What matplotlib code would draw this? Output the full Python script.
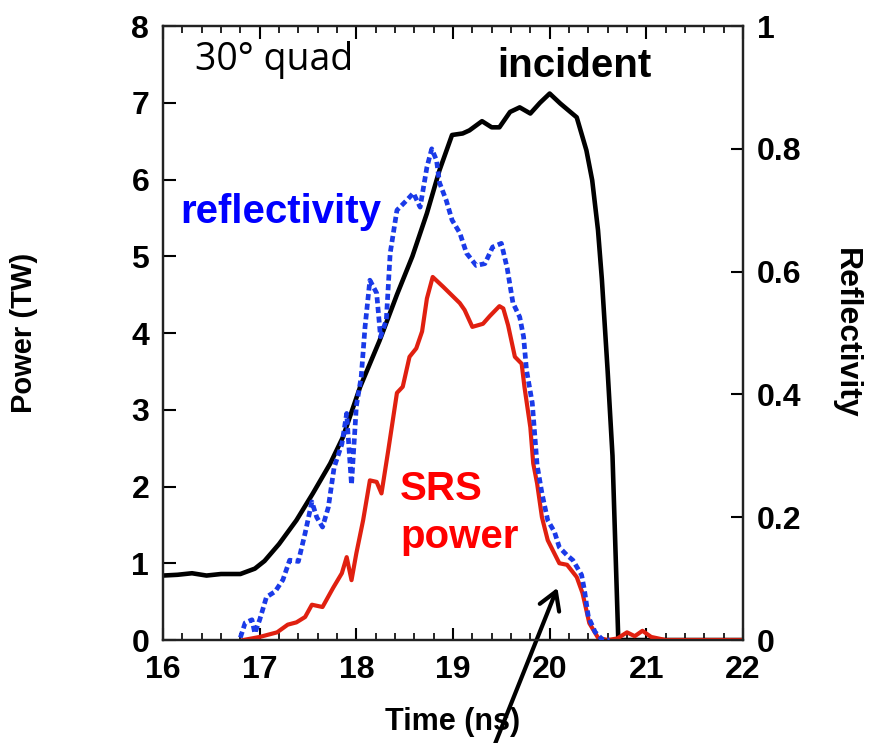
import matplotlib
matplotlib.use("Agg")
import matplotlib.pyplot as plt
from matplotlib.ticker import MultipleLocator

# incident laser power (TW)
t_inc = [16.0, 16.15, 16.3, 16.45, 16.6, 16.8, 16.95, 17.05, 17.2, 17.38, 17.55,
         17.73, 17.86, 18.04, 18.24, 18.42, 18.58, 18.73, 18.86, 18.99, 19.1,
         19.17, 19.3, 19.4, 19.48, 19.59, 19.69, 19.8, 19.9, 20.0, 20.11, 20.28,
         20.38, 20.44, 20.5, 20.54, 20.6, 20.65, 20.69, 20.71, 22.0]
p_inc = [0.84, 0.85, 0.87, 0.84, 0.86, 0.86, 0.93, 1.03, 1.25, 1.56, 1.91,
         2.3, 2.64, 3.3, 3.9, 4.5, 5.0, 5.56, 6.12, 6.58, 6.6,
         6.64, 6.76, 6.68, 6.68, 6.88, 6.94, 6.86, 7.0, 7.12, 6.99, 6.81,
         6.38, 5.99, 5.34, 4.7, 3.5, 2.4, 0.8, 0.0, 0.0]

# SRS power (TW)
t_srs = [16.83, 17.0, 17.18, 17.29, 17.38, 17.47, 17.54, 17.65, 17.76, 17.85,
         17.9, 17.95, 18.0, 18.07, 18.14, 18.21, 18.26, 18.33, 18.42, 18.48,
         18.55, 18.62, 18.68, 18.73, 18.79, 18.9, 19.07, 19.12, 19.2, 19.31,
         19.38, 19.48, 19.52, 19.57, 19.64, 19.71, 19.74, 19.8, 19.83, 19.87,
         19.92, 19.98, 20.1, 20.18, 20.28, 20.34, 20.41, 20.5, 20.6, 20.7,
         20.8, 20.88, 20.96, 21.05, 21.2, 22.0]
p_srs = [0.0, 0.04, 0.1, 0.2, 0.23, 0.3, 0.46, 0.43, 0.68, 0.87,
         1.08, 0.78, 1.13, 1.56, 2.08, 2.06, 1.91, 2.47, 3.22, 3.3,
         3.69, 3.8, 4.02, 4.45, 4.73, 4.6, 4.39, 4.3, 4.08, 4.12,
         4.22, 4.35, 4.32, 4.1, 3.69, 3.6, 3.29, 2.77, 2.3, 2.04,
         1.6, 1.3, 1.0, 0.98, 0.82, 0.61, 0.22, 0.03, 0.0, 0.02,
         0.1, 0.05, 0.12, 0.04, 0.0, 0.0]

# reflectivity (fraction)
t_refl = [16.8, 16.85, 16.92, 16.95, 17.0, 17.07, 17.16, 17.24, 17.31, 17.4,
          17.47, 17.54, 17.59, 17.65, 17.71, 17.77, 17.85, 17.9, 17.93, 17.95,
          18.0, 18.05, 18.09, 18.14, 18.21, 18.25, 18.31, 18.35, 18.42, 18.52,
          18.59, 18.66, 18.73, 18.78, 18.83, 18.86, 18.93, 18.99, 19.07, 19.14,
          19.24, 19.33, 19.41, 19.5, 19.56, 19.62, 19.69, 19.73, 19.76, 19.82,
          19.87, 19.92, 19.98, 20.05, 20.1, 20.18, 20.24, 20.33, 20.36, 20.4,
          20.47, 20.55, 20.62]
refl = [0.004, 0.028, 0.033, 0.011, 0.033, 0.07, 0.079, 0.098, 0.13, 0.128,
        0.174, 0.225, 0.2, 0.184, 0.216, 0.281, 0.319, 0.369, 0.298, 0.253,
        0.381, 0.428, 0.51, 0.586, 0.565, 0.494, 0.521, 0.63, 0.7, 0.716,
        0.728, 0.705, 0.77, 0.8, 0.781, 0.745, 0.716, 0.684, 0.663, 0.63,
        0.61, 0.613, 0.64, 0.646, 0.606, 0.549, 0.526, 0.494, 0.44, 0.386,
        0.285, 0.239, 0.195, 0.176, 0.151, 0.138, 0.13, 0.106, 0.081, 0.038,
        0.013, 0.0, 0.0]

plt.rcParams['font.family'] = ['Liberation Sans', 'DejaVu Sans']

fig = plt.figure(figsize=(8.69, 7.43), dpi=100)
ax = fig.add_axes([0.1876, 0.1386, 0.6674, 0.8264])
ax2 = ax.twinx()

ax.plot(t_inc, p_inc, color='black', lw=3.3, zorder=2)
ax.plot(t_srs, p_srs, color='#e02010', lw=3.0, zorder=3)
ax2.plot(t_refl, refl, color='#1a3ae8', lw=3.4, linestyle=(0, (1.3, 0.75)), zorder=4)

ax.set_xlim(16, 22)
ax.set_ylim(0, 8)
ax2.set_ylim(0, 1)

ax.xaxis.set_major_locator(MultipleLocator(1))
ax.xaxis.set_minor_locator(MultipleLocator(0.2))
ax.yaxis.set_major_locator(MultipleLocator(1))
ax2.set_yticks([0, 0.2, 0.4, 0.6, 0.8, 1])
ax2.set_yticklabels(['0', '0.2', '0.4', '0.6', '0.8', '1'])

ax.tick_params(axis='x', which='major', direction='in', length=9, width=1.5,
               top=True, labelsize=23, pad=11)
ax.tick_params(axis='x', which='minor', direction='in', length=5, width=1.2, top=True)
ax.tick_params(axis='y', which='major', direction='in', length=9, width=1.5,
               right=False, labelsize=23, pad=10)
ax2.tick_params(axis='y', direction='in', length=9, width=1.5, labelsize=23, pad=10)
for lab in ax.get_xticklabels() + ax.get_yticklabels() + ax2.get_yticklabels():
    lab.set_fontweight('bold')

for a in (ax, ax2):
    for s in a.spines.values():
        s.set_linewidth(1.6)
        s.set_color('#222222')

ax.set_xlabel('Time (ns)', fontsize=22, fontweight='bold')
ax.xaxis.set_label_coords(0.5, -0.109)
ax.set_ylabel('Power (TW)', fontsize=21, fontweight='bold')
ax.yaxis.set_label_coords(-0.215, 0.5)
ax2.set_ylabel('Reflectivity', fontsize=23, fontweight='bold', rotation=270, va='center')
ax2.yaxis.set_label_coords(1.178, 0.5)

ax.text(0.055, 0.928, '30° quad', transform=ax.transAxes, fontsize=27,
        family='Open Sans', va='baseline', ha='left')
ax.text(0.576, 0.917, 'incident', transform=ax.transAxes, fontsize=29,
        fontweight='bold', va='baseline', ha='left')
ax.text(0.029, 0.679, 'reflectivity', transform=ax.transAxes, fontsize=29,
        fontweight='bold', color='#0000ff', va='baseline', ha='left', zorder=5)
ax.text(0.409, 0.228, 'SRS', transform=ax.transAxes, fontsize=29,
        fontweight='bold', color='#ff0000', va='baseline', ha='left')
ax.text(0.409, 0.15, 'power', transform=ax.transAxes, fontsize=29,
        fontweight='bold', color='#ff0000', va='baseline', ha='left')

ax.annotate('', xy=(20.08, 0.68), xytext=(19.42, -1.4), annotation_clip=False,
            arrowprops=dict(arrowstyle='->,head_length=0.5,head_width=0.3',
                            color='black', lw=3, mutation_scale=25,
                            shrinkA=0, shrinkB=0))

fig.savefig('out.png', dpi=100)
plt.close(fig)
